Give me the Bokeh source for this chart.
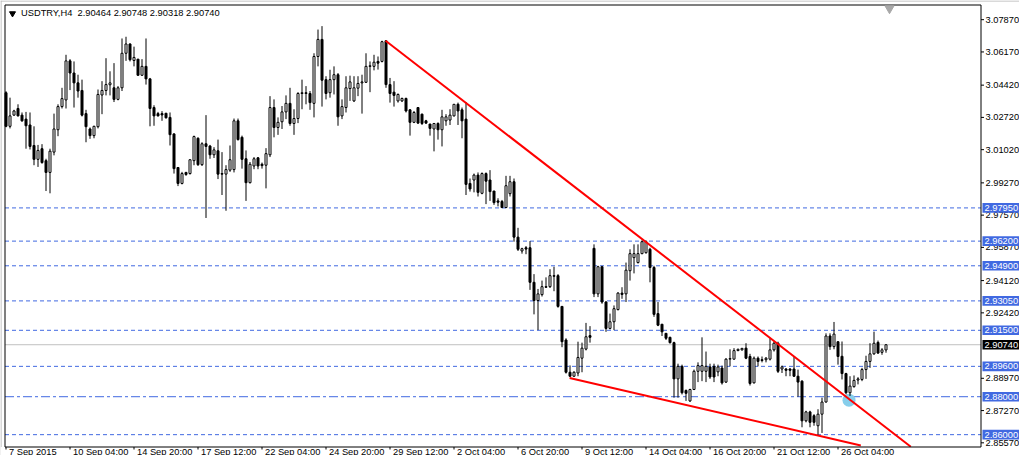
from bokeh.plotting import figure
from bokeh.models import Range1d
from bokeh.core.properties import value
from bokeh.embed import file_html
from bokeh.resources import INLINE

symbol_title = "USDTRY,H4\u00a0 2.90464 2.90748 2.90318 2.90740"

opens = [3.0402,3.0225,3.0284,3.0319,3.0284,3.0263,3.0232,3.0124,3.0051,3.0107,
         3.0044,2.9982,3.0089,3.0207,3.0329,3.0364,3.0570,3.0506,3.0454,3.0414,
         3.0292,3.0211,3.0176,3.0223,3.0390,3.0414,3.0444,3.0428,3.0367,3.0428,
         3.0610,3.0659,3.0572,3.0579,3.0494,3.0541,3.0475,3.0324,3.0292,3.0292,
         3.0294,3.0272,3.0185,3.0008,2.9924,2.9982,2.9976,3.0044,3.0162,3.0023,
         3.0133,3.0121,3.0075,3.0096,2.9976,2.9973,2.9994,2.9997,3.0254,3.0167,
         3.0054,2.9928,3.0016,3.0059,3.0025,3.0020,3.0075,3.0324,3.0219,3.0249,
         3.0301,3.0346,3.0240,3.0266,3.0398,3.0402,3.0398,3.0346,3.0593,3.0683,
         3.0471,3.0402,3.0471,3.0497,3.0280,3.0324,3.0424,3.0359,3.0426,3.0454,
         3.0457,3.0541,3.0541,3.0567,3.0567,3.0676,3.0445,3.0405,3.0359,3.0359,
         3.0372,3.0312,3.0246,3.0324,3.0289,3.0254,3.0237,3.0211,3.0240,3.0207,
         3.0254,3.0258,3.0280,3.0341,3.0312,3.0263,2.9924,2.9942,2.9968,2.9872,
         2.9976,2.9942,2.9884,2.9832,2.9829,2.9797,2.9870,2.9933,2.9641,2.9568,
         2.9585,2.9585,2.9403,2.9307,2.9338,2.9380,2.9380,2.9438,2.9438,2.9276,
         2.9099,2.8929,2.8908,2.8925,2.9003,2.9051,2.9122,2.9582,2.9342,2.9485,
         2.9299,2.9160,2.9195,2.9259,2.9346,2.9342,2.9464,2.9533,2.9507,2.9554,
         2.9559,2.9577,2.9481,2.9238,2.9182,2.9134,2.9113,2.9085,2.8894,2.8960,
         2.8833,2.8778,2.8838,2.8934,2.8934,2.8934,2.8957,2.8960,2.8931,2.8951,
         2.8877,2.8998,2.8998,2.9043,2.9047,2.9056,2.9012,2.8873,2.9003,2.8995,
         2.8995,2.8998,2.9047,2.9082,2.8946,2.8946,2.8946,2.8946,2.8908,2.8882,
         2.8673,2.8720,2.8700,2.8647,2.8708,2.8772,2.9120,2.9064,2.9090,2.9013,
         2.8922,2.8821,2.8853,2.8888,2.8891,2.8943,2.8986,2.9026,2.9086,2.9034,
         2.90464]
highs = [3.0410,3.0376,3.0312,3.0341,3.0298,3.0301,3.0298,3.0225,3.0127,3.0131,
         3.0054,3.0107,3.0292,3.0341,3.0428,3.0602,3.0579,3.0567,3.0497,3.0471,
         3.0312,3.0219,3.0228,3.0419,3.0463,3.0584,3.0515,3.0558,3.0437,3.0688,
         3.0697,3.0662,3.0645,3.0579,3.0579,3.0688,3.0480,3.0336,3.0301,3.0305,
         3.0294,3.0298,3.0188,3.0008,2.9985,2.9985,3.0049,3.0176,3.0167,3.0141,
         3.0284,3.0127,3.0115,3.0155,3.0089,3.0020,3.0124,3.0266,3.0266,3.0176,
         3.0098,3.0037,3.0063,3.0063,3.0034,3.0110,3.0384,3.0367,3.0272,3.0332,
         3.0388,3.0428,3.0315,3.0405,3.0471,3.0437,3.0411,3.0610,3.0735,3.0753,
         3.0489,3.0523,3.0541,3.0506,3.0367,3.0489,3.0492,3.0489,3.0489,3.0497,
         3.0610,3.0567,3.0602,3.0593,3.0676,3.0676,3.0480,3.0463,3.0398,3.0376,
         3.0376,3.0315,3.0306,3.0324,3.0292,3.0259,3.0237,3.0242,3.0246,3.0312,
         3.0289,3.0315,3.0341,3.0350,3.0324,3.0353,2.9950,2.9976,2.9982,2.9982,
         2.9982,2.9994,2.9884,2.9846,2.9837,2.9964,2.9964,2.9950,2.9690,2.9585,
         2.9594,2.9620,2.9446,2.9368,2.9412,2.9429,2.9472,2.9485,2.9446,2.9278,
         2.9108,2.8965,2.8934,2.9090,2.9085,2.9189,2.9172,2.9603,2.9490,2.9490,
         2.9304,2.9238,2.9281,2.9351,2.9377,2.9507,2.9577,2.9603,2.9603,2.9624,
         2.9624,2.9585,2.9490,2.9299,2.9182,2.9134,2.9116,2.9090,2.8974,2.8969,
         2.8838,2.8842,2.8943,2.8981,2.9113,2.9038,2.8974,2.8974,2.8969,2.8964,
         2.9003,2.9050,2.9056,2.9053,2.9056,2.9082,2.9026,2.9012,2.9012,2.9012,
         2.9009,2.9108,2.9090,2.9090,2.8964,2.8951,2.8951,2.9012,2.8943,2.8887,
         2.8726,2.8726,2.8708,2.8734,2.8795,2.9134,2.9134,2.9194,2.9090,2.9091,
         2.8926,2.8908,2.8912,2.8903,2.8952,2.9016,2.9082,2.9143,2.9096,2.9056,
         2.90748]
lows = [3.0220,3.0214,3.0280,3.0277,3.0249,3.0107,3.0103,3.0020,3.0011,3.0028,
        2.9884,2.9872,3.0072,3.0173,3.0319,3.0319,3.0416,3.0324,3.0376,3.0277,
        3.0141,3.0159,3.0162,3.0214,3.0289,3.0388,3.0388,3.0353,3.0362,3.0411,
        3.0570,3.0567,3.0541,3.0492,3.0492,3.0445,3.0225,3.0228,3.0277,3.0254,
        3.0266,3.0124,2.9976,2.9910,2.9919,2.9964,2.9971,3.0020,3.0016,3.0016,
        2.9742,3.0054,3.0058,2.9947,2.9863,2.9780,2.9985,2.9982,3.0150,3.0002,
        2.9832,2.9924,2.9999,2.9999,3.0002,2.9898,3.0063,3.0167,3.0180,3.0211,
        3.0263,3.0228,3.0180,3.0242,3.0315,3.0341,3.0312,3.0272,3.0541,3.0329,
        3.0367,3.0376,3.0393,3.0228,3.0263,3.0298,3.0359,3.0353,3.0384,3.0292,
        3.0454,3.0405,3.0520,3.0524,3.0562,3.0428,3.0350,3.0329,3.0350,3.0353,
        3.0298,3.0176,3.0242,3.0237,3.0232,3.0237,3.0176,3.0093,3.0155,3.0119,
        3.0228,3.0232,3.0277,3.0232,3.0162,2.9863,2.9881,2.9877,2.9855,2.9867,
        2.9815,2.9832,2.9811,2.9803,2.9794,2.9794,2.9855,2.9617,2.9568,2.9554,
        2.9551,2.9363,2.9234,2.9151,2.9328,2.9373,2.9373,2.9356,2.9269,2.9061,
        2.8922,2.8905,2.8905,2.8908,2.8929,2.9044,2.9085,2.9325,2.9325,2.9290,
        2.9142,2.9155,2.9151,2.9255,2.9316,2.9299,2.9412,2.9450,2.9502,2.9551,
        2.9554,2.9403,2.9221,2.9172,2.9120,2.9099,2.9080,2.8795,2.8795,2.8812,
        2.8778,2.8772,2.8835,2.8877,2.8882,2.8877,2.8894,2.8877,2.8908,2.8864,
        2.8873,2.8960,2.8995,2.9040,2.9043,2.8998,2.8859,2.8870,2.8960,2.8981,
        2.8981,2.8991,2.9038,2.8925,2.8925,2.8908,2.8908,2.8904,2.8800,2.8639,
        2.8665,2.8639,2.8647,2.8599,2.8609,2.8769,2.9047,2.9050,2.8969,2.8891,
        2.8813,2.8804,2.8848,2.8865,2.8882,2.8894,2.8952,2.9021,2.9026,2.9021,
        2.90318]
closes = [3.0225,3.0280,3.0306,3.0280,3.0254,3.0228,3.0119,3.0051,3.0098,3.0034,
          2.9982,3.0094,3.0211,3.0329,3.0371,3.0570,3.0506,3.0454,3.0411,3.0284,
          3.0223,3.0176,3.0225,3.0393,3.0414,3.0445,3.0454,3.0367,3.0428,3.0610,
          3.0659,3.0576,3.0588,3.0494,3.0541,3.0475,3.0319,3.0280,3.0280,3.0285,
          3.0270,3.0181,3.0002,2.9924,2.9976,2.9971,3.0049,3.0171,3.0023,3.0133,
          3.0119,3.0075,3.0101,2.9973,2.9973,2.9997,3.0049,3.0254,3.0155,3.0051,
          2.9928,3.0025,3.0054,3.0016,3.0018,3.0081,3.0324,3.0219,3.0246,3.0301,
          3.0346,3.0240,3.0266,3.0398,3.0402,3.0398,3.0350,3.0593,3.0683,3.0468,
          3.0398,3.0471,3.0497,3.0275,3.0329,3.0428,3.0459,3.0428,3.0451,3.0459,
          3.0541,3.0544,3.0563,3.0558,3.0671,3.0445,3.0398,3.0388,3.0393,3.0372,
          3.0306,3.0246,3.0298,3.0242,3.0240,3.0242,3.0214,3.0240,3.0207,3.0275,
          3.0275,3.0284,3.0341,3.0306,3.0254,2.9919,2.9895,2.9968,2.9877,2.9976,
          2.9936,2.9881,2.9823,2.9825,2.9797,2.9912,2.9933,2.9641,2.9577,2.9580,
          2.9578,2.9403,2.9307,2.9342,2.9380,2.9377,2.9438,2.9435,2.9276,2.9090,
          2.8929,2.8908,2.8929,2.9007,2.9056,2.9116,2.9113,2.9342,2.9485,2.9299,
          2.9160,2.9195,2.9264,2.9346,2.9339,2.9467,2.9554,2.9554,2.9554,2.9617,
          2.9617,2.9481,2.9234,2.9177,2.9142,2.9108,2.9085,2.8894,2.8960,2.8821,
          2.8818,2.8838,2.8934,2.8964,2.8964,2.8960,2.8904,2.8904,2.8957,2.8873,
          2.8998,2.9001,2.9043,2.9050,2.9055,2.9003,2.8870,2.9003,2.8986,2.8991,
          2.9003,2.9047,2.9082,2.8934,2.8957,2.8939,2.8939,2.8908,2.8877,2.8673,
          2.8720,2.8665,2.8665,2.8708,2.8772,2.9120,2.9064,2.9130,2.9012,2.8922,
          2.8821,2.8856,2.8886,2.8894,2.8943,2.8986,2.9026,2.9082,2.9030,2.9047,
          2.90740]

date_ticks = [0, 16, 32, 48, 64, 80, 96, 112, 128, 144, 160, 176, 192, 208]
date_labels = ["7 Sep 2015", "10 Sep 04:00", "14 Sep 20:00", "17 Sep 12:00",
               "22 Sep 04:00", "24 Sep 20:00", "29 Sep 12:00", "2 Oct 04:00",
               "6 Oct 20:00", "9 Oct 12:00", "14 Oct 04:00", "16 Oct 20:00",
               "21 Oct 12:00", "26 Oct 04:00"]
price_ticks = [3.0787, 3.0617, 3.0442, 3.0272, 3.0102, 2.9927, 2.9757, 2.9587,
               2.9412, 2.9242, 2.8897, 2.8727, 2.8557]
dashed_levels = [2.9795, 2.9620, 2.9490, 2.9305, 2.9150, 2.8960, 2.8600]
dashdot_levels = [2.8800]
last_price = 2.9074
upper_line_x = [94.9, 226.2]
upper_line_y = [3.0676, 2.8536]
lower_line_x = [140.9, 213.7]
lower_line_y = [2.8899, 2.8543]
marker_x = [210.75]
marker_y = [2.8782]

FONT = value("Liberation Sans")
FS = value("9.3px")
BLUE = "#4169E1"

# ---- layout: the whole canvas is the frame; scales map bar index / price
W, H = 1019, 455
SX = 4.0                 # pixels per bar
SY = 1897.5              # pixels per price unit
X_AT0 = -1.375           # bar index at canvas x = 0
Y_AT0 = 3.08881          # price at canvas y = 0


def dx(px):
    return X_AT0 + px / SX


def dy(py):
    return Y_AT0 - py / SY


XL, XR = dx(4.5), dx(980.5)      # chart area edges
YT, YB = dy(4.5), dy(446.5)

p = figure(width=W, height=H, x_range=Range1d(X_AT0, X_AT0 + W / SX),
           y_range=Range1d(Y_AT0 - H / SY, Y_AT0),
           output_backend="svg", toolbar_location=None,
           x_axis_location=None, y_axis_location=None,
           min_border_left=0, min_border_right=0, min_border_top=0, min_border_bottom=0)
p.xgrid.visible = False
p.ygrid.visible = False
p.outline_line_color = None
p.background_fill_color = "white"
p.border_fill_color = "white"

n = len(opens)
idx = list(range(n))
bull = [i for i in idx if closes[i] >= opens[i]]
bear = [i for i in idx if closes[i] < opens[i]]

# window edge
p.segment(x0=[dx(0.5), dx(0)], y0=[dy(0), dy(0.5)], x1=[dx(0.5), dx(W)], y1=[dy(H), dy(0.5)],
          line_color="#B4B4B4", line_width=1)

# horizontal levels
k = len(dashed_levels)
p.segment(x0=[XL] * k, y0=dashed_levels, x1=[XR] * k, y1=dashed_levels,
          line_color=BLUE, line_width=1, line_dash="4 3")
k2 = len(dashdot_levels)
p.segment(x0=[XL] * k2, y0=dashdot_levels, x1=[XR] * k2, y1=dashdot_levels,
          line_color=BLUE, line_width=1, line_dash="9 3 3 3")
p.segment(x0=[XL], y0=[last_price], x1=[XR], y1=[last_price],
          line_color="#C0C0C0", line_width=1)

p.scatter(marker_x, marker_y, size=13, marker="circle", fill_color="#87CEEB",
          line_color=None)

# candles
p.segment(x0=idx, y0=highs, x1=idx, y1=lows, line_color="black", line_width=1)
p.vbar(x=bull, width=0.5, top=[closes[i] for i in bull], bottom=[opens[i] for i in bull],
       fill_color="white", line_color="black", line_width=1)
p.vbar(x=bear, width=0.5, top=[opens[i] for i in bear], bottom=[closes[i] for i in bear],
       fill_color="black", line_color="black", line_width=1)

# trend lines
p.line(upper_line_x, upper_line_y, line_color="red", line_width=2)
p.line(lower_line_x, lower_line_y, line_color="red", line_width=2)

# chart border (and white margin beneath it)
p.quad(left=[dx(0)], right=[dx(W + 2)], top=[YB], bottom=[dy(H + 2)], fill_color="white",
       line_color=None)
p.quad(left=[XR], right=[dx(W + 2)], top=[YT], bottom=[dy(H + 2)], fill_color="white",
       line_color=None)
p.quad(left=[XL], right=[XR], top=[YT], bottom=[YB], fill_color=None,
       line_color="black", line_width=1)

# price scale: ticks and labels
m = len(price_ticks)
p.segment(x0=[XR] * m, y0=price_ticks, x1=[dx(983.5)] * m, y1=price_ticks,
          line_color="black", line_width=1)
p.text(x=[dx(985)] * m, y=price_ticks, text=["%.5f" % t for t in price_ticks],
       text_font=FONT, text_font_size=FS, text_color="black",
       text_baseline="middle", text_align="left")

# time scale: ticks and labels (left aligned on the tick)
q = len(date_ticks)
p.segment(x0=date_ticks, y0=[YB] * q, x1=date_ticks, y1=[dy(449)] * q,
          line_color="black", line_width=1)
p.text(x=[t + 0.75 for t in date_ticks], y=[dy(451)] * q, text=date_labels,
       text_font=FONT, text_font_size=FS, text_color="black",
       text_baseline="middle", text_align="left")

# level tags
tag_levels = dashed_levels + dashdot_levels
hh = 4.8 / SY
t = len(tag_levels)
p.quad(left=[dx(982)] * t, right=[dx(W + 1)] * t, top=[v + hh for v in tag_levels],
       bottom=[v - hh for v in tag_levels], fill_color=BLUE, line_color=None)
p.text(x=[dx(984)] * t, y=tag_levels, text=["%.5f" % v for v in tag_levels],
       text_font=FONT, text_font_size=FS, text_color="white",
       text_baseline="middle", text_align="left")
p.quad(left=[dx(982)], right=[dx(W + 1)], top=[last_price + hh], bottom=[last_price - hh],
       fill_color="black", line_color=None)
p.text(x=[dx(984)], y=[last_price], text=["%.5f" % last_price],
       text_font=FONT, text_font_size=FS, text_color="white",
       text_baseline="middle", text_align="left")

# header
p.scatter([dx(12)], [dy(13)], marker="inverted_triangle", size=6, fill_color="black",
          line_color="black")
p.text(x=[dx(20.5)], y=[dy(12.5)], text=[symbol_title], text_font=FONT, text_font_size=FS,
       text_color="black", text_baseline="middle", text_align="left")
p.scatter([dx(889)], [dy(8)], marker="inverted_triangle", size=9, fill_color="#A8A8A8",
          line_color="#A8A8A8")

open("out.html", "w").write(file_html(p, INLINE))
